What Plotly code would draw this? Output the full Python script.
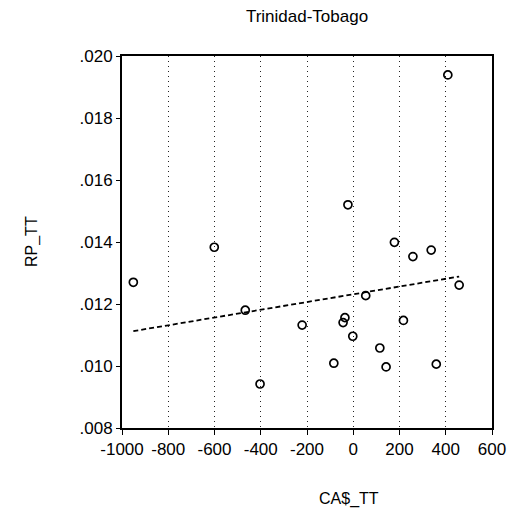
import numpy as np
import plotly.graph_objects as go

title = "Trinidad-Tobago"
x_label = "CA$_TT"
y_label = "RP_TT"

ca_tt = [-951, -601, -467, -403, -221, -84, -36, -44, -2, 54, 115, 142,
         178, 217, 258, 337, 359, 458, 409, -23]
rp_tt = [0.0127, 0.01383, 0.0118, 0.00942, 0.01132, 0.01009, 0.01156, 0.0114,
         0.01096, 0.01227, 0.01058, 0.00997, 0.01399, 0.01147, 0.01353, 0.01374,
         0.01006, 0.01261, 0.01939, 0.0152]

x_ticks = [-1000, -800, -600, -400, -200, 0, 200, 400, 600]
x_tick_text = ["-1000", "-800", "-600", "-400", "-200", "0", "200", "400", "600"]
y_ticks = [0.008, 0.010, 0.012, 0.014, 0.016, 0.018, 0.020]
y_tick_text = [".008", ".010", ".012", ".014", ".016", ".018", ".020"]

# least-squares fit line across the data range
slope, intercept = np.polyfit(ca_tt, rp_tt, 1)
fit_x = np.array([min(ca_tt), max(ca_tt)])
fit_y = slope * fit_x + intercept

font = "Liberation Sans, Arial, sans-serif"

L, R, T, B = 122, 29, 56, 89
W, H = 521, 517
pw, ph = W - L - R, H - T - B

fig = go.Figure()
fig.add_trace(go.Scatter(
    x=fit_x, y=fit_y, mode="lines",
    line=dict(color="black", width=1.8, dash="5px,3px"),
    showlegend=False, hoverinfo="skip"))
fig.add_trace(go.Scatter(
    x=ca_tt, y=rp_tt, mode="markers",
    marker=dict(symbol="circle-open", size=8, color="black",
                line=dict(width=1.7, color="black")),
    showlegend=False))

fig.update_layout(
    width=W, height=H,
    margin=dict(l=L, r=R, t=T, b=B),
    paper_bgcolor="white", plot_bgcolor="white",
    font=dict(family=font, size=17, color="black"),
    title=dict(text=title, x=(L + pw / 2) / W, xanchor="center", y=1 - 16 / H, yanchor="middle",
               font=dict(family=font, size=17, color="black")),
    xaxis=dict(range=[-1000, 600], tickvals=x_ticks, ticktext=x_tick_text,
               showline=True, linecolor="black", linewidth=2, mirror=True,
               ticks="outside", ticklen=5, tickcolor="black", tickwidth=1,
               showgrid=True, gridcolor="#222", gridwidth=1, griddash="1px,4px",
               zeroline=False, tickfont=dict(size=17)),
    yaxis=dict(range=[0.008, 0.020], tickvals=y_ticks, ticktext=y_tick_text,
               showline=True, linecolor="black", linewidth=2, mirror=True,
               ticks="outside", ticklen=4, tickcolor="black", tickwidth=1,
               showgrid=False, zeroline=False, tickfont=dict(size=17)),
    annotations=[
        dict(text=x_label, x=(349 - L) / pw, y=(H - B - 499) / ph, xref="paper", yref="paper",
             showarrow=False, xanchor="center", yanchor="middle",
             font=dict(family=font, size=16, color="black")),
        dict(text=y_label, x=(32 - L) / pw, y=(H - B - 242) / ph, xref="paper", yref="paper",
             showarrow=False, textangle=-90, xanchor="center", yanchor="middle",
             font=dict(family=font, size=16, color="black")),
    ],
)

fig.write_html("out.html")
